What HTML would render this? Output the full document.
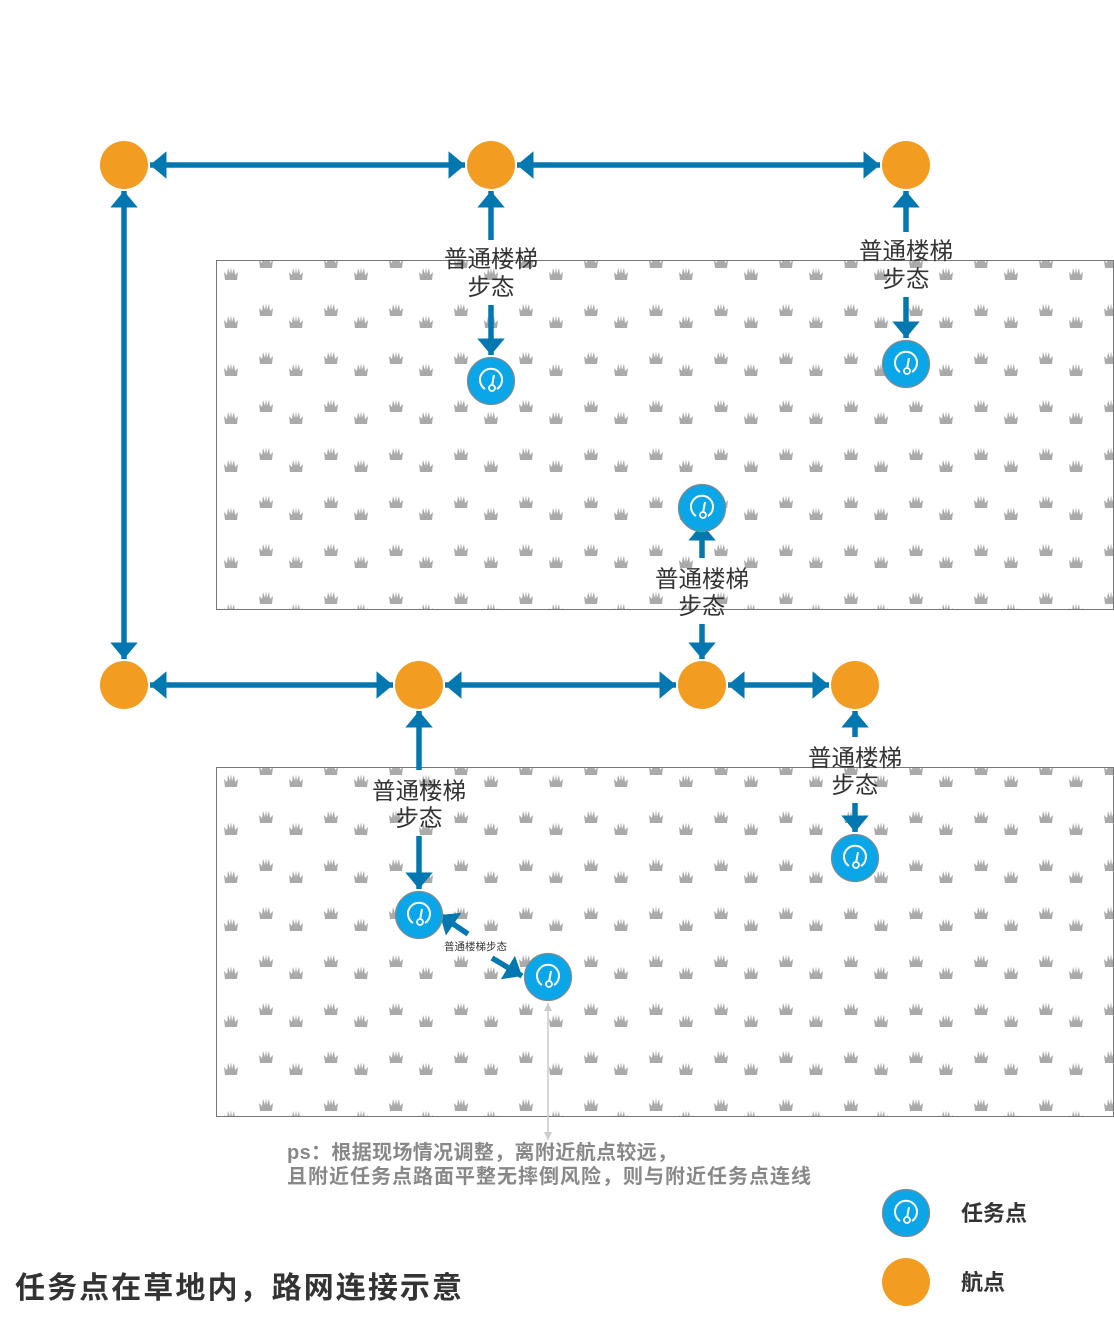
<!DOCTYPE html>
<html><head><meta charset="utf-8"><style>
html,body{margin:0;padding:0;background:#fff;}
svg{display:block;}
text{font-family:"Liberation Sans","Noto Sans CJK SC",sans-serif;}
</style></head><body>
<svg width="1114" height="1322" viewBox="0 0 1114 1322" xmlns="http://www.w3.org/2000/svg">
<defs>
<g id="gr"><path d="M-6,6 L6,6 L7,-2 L4,1 L3,-6 L1,0 L0,-7 L-1,0 L-3,-6 L-4,1 L-7,-2 Z" fill="#aaa"/></g>
<pattern id="p1" patternUnits="userSpaceOnUse" x="216" y="260" width="65" height="48">
<use href="#gr" x="15" y="14"/><use href="#gr" x="50" y="2"/><use href="#gr" x="50" y="50"/>
</pattern>
<pattern id="p2" patternUnits="userSpaceOnUse" x="216" y="767" width="65" height="48">
<use href="#gr" x="15" y="14"/><use href="#gr" x="50" y="2"/><use href="#gr" x="50" y="50"/>
</pattern>
<marker id="ah" markerWidth="4" markerHeight="5" refX="3" refY="2.5" orient="auto-start-reverse" markerUnits="strokeWidth">
<path d="M0,0 L3,2.5 L0,5 Z" fill="#0378B0"/></marker>
<marker id="gh" markerWidth="10" markerHeight="8" refX="8" refY="4" orient="auto-start-reverse" markerUnits="userSpaceOnUse">
<path d="M0,0 L8,4 L0,8 Z" fill="#ccc"/></marker>
<g id="task">
<circle r="23.5" fill="#0AA6E8" stroke="#888" stroke-width="1.2"/>
<path d="M-6,8 A11,11 0 1 1 6,8" fill="none" stroke="#fff" stroke-width="2"/>
<line x1="1" y1="5" x2="3" y2="-6" stroke="#fff" stroke-width="2"/>
<circle cx="1" cy="7" r="3" fill="#0AA6E8" stroke="#fff" stroke-width="1.8"/>
</g>
</defs>

<rect x="216.5" y="260.5" width="897" height="349" fill="url(#p1)" stroke="#777" stroke-width="1"/>
<rect x="216.5" y="767.5" width="897" height="349" fill="url(#p2)" stroke="#777" stroke-width="1"/>

<g stroke="#0378B0" stroke-width="5.5" fill="none" marker-start="url(#ah)" marker-end="url(#ah)">
<line x1="150" y1="165" x2="465" y2="165"/>
<line x1="517" y1="165" x2="880" y2="165"/>
<line x1="124" y1="191" x2="124" y2="659"/>
<line x1="150" y1="685" x2="393" y2="685"/>
<line x1="445" y1="685" x2="676" y2="685"/>
<line x1="728" y1="685" x2="829" y2="685"/>
</g>
<g stroke="#0378B0" stroke-width="5.5" fill="none" marker-end="url(#ah)">
<line x1="491" y1="240" x2="491" y2="191"/>
<line x1="491" y1="305" x2="491" y2="355"/>
<line x1="906" y1="232" x2="906" y2="191"/>
<line x1="906" y1="297" x2="906" y2="338"/>
<line x1="702" y1="558" x2="702" y2="524"/>
<line x1="702" y1="624" x2="702" y2="659"/>
<line x1="419" y1="770" x2="419" y2="711"/>
<line x1="419" y1="836" x2="419" y2="889"/>
<line x1="855" y1="737" x2="855" y2="711"/>
<line x1="855" y1="803" x2="855" y2="832"/>
<line x1="468" y1="934" x2="440" y2="915"/>
<line x1="492" y1="958" x2="522" y2="976"/>
</g>
<line x1="548" y1="1003" x2="548" y2="1140" stroke="#ccc" stroke-width="1.5" marker-start="url(#gh)" marker-end="url(#gh)"/>

<g fill="#F39C22">
<circle cx="124" cy="165" r="24"/><circle cx="491" cy="165" r="24"/><circle cx="906" cy="165" r="24"/>
<circle cx="124" cy="685" r="24"/><circle cx="419" cy="685" r="24"/><circle cx="702" cy="685" r="24"/><circle cx="855" cy="685" r="24"/>
<circle cx="906" cy="1282" r="24"/>
</g>
<use href="#task" x="491" y="381"/>
<use href="#task" x="906" y="364"/>
<use href="#task" x="702" y="508"/>
<use href="#task" x="855" y="858"/>
<use href="#task" x="419" y="915"/>
<use href="#task" x="548" y="977"/>
<use href="#task" x="906" y="1213"/>

<g font-size="23.5" fill="#333" text-anchor="middle">
<text x="491" y="267">普通楼梯</text><text x="491" y="295">步态</text>
<text x="906" y="259">普通楼梯</text><text x="906" y="287">步态</text>
<text x="702" y="587">普通楼梯</text><text x="702" y="614">步态</text>
<text x="419" y="799">普通楼梯</text><text x="419" y="826">步态</text>
<text x="855" y="766">普通楼梯</text><text x="855" y="793">步态</text>
</g>
<text x="444" y="950" font-size="10.5" fill="#333">普通楼梯步态</text>

<g font-size="20" font-weight="bold" fill="#888">
<text x="287" y="1159" textLength="390">ps：根据现场情况调整，离附近航点较远，</text>
<text x="287" y="1183" textLength="524">且附近任务点路面平整无摔倒风险，则与附近任务点连线</text>
</g>
<text x="15" y="1298" font-size="30" font-weight="bold" fill="#333" textLength="447">任务点在草地内，路网连接示意</text>
<text x="961" y="1221" font-size="22" font-weight="bold" fill="#333">任务点</text>
<text x="961" y="1290" font-size="22" font-weight="bold" fill="#333">航点</text>
</svg>
</body></html>
